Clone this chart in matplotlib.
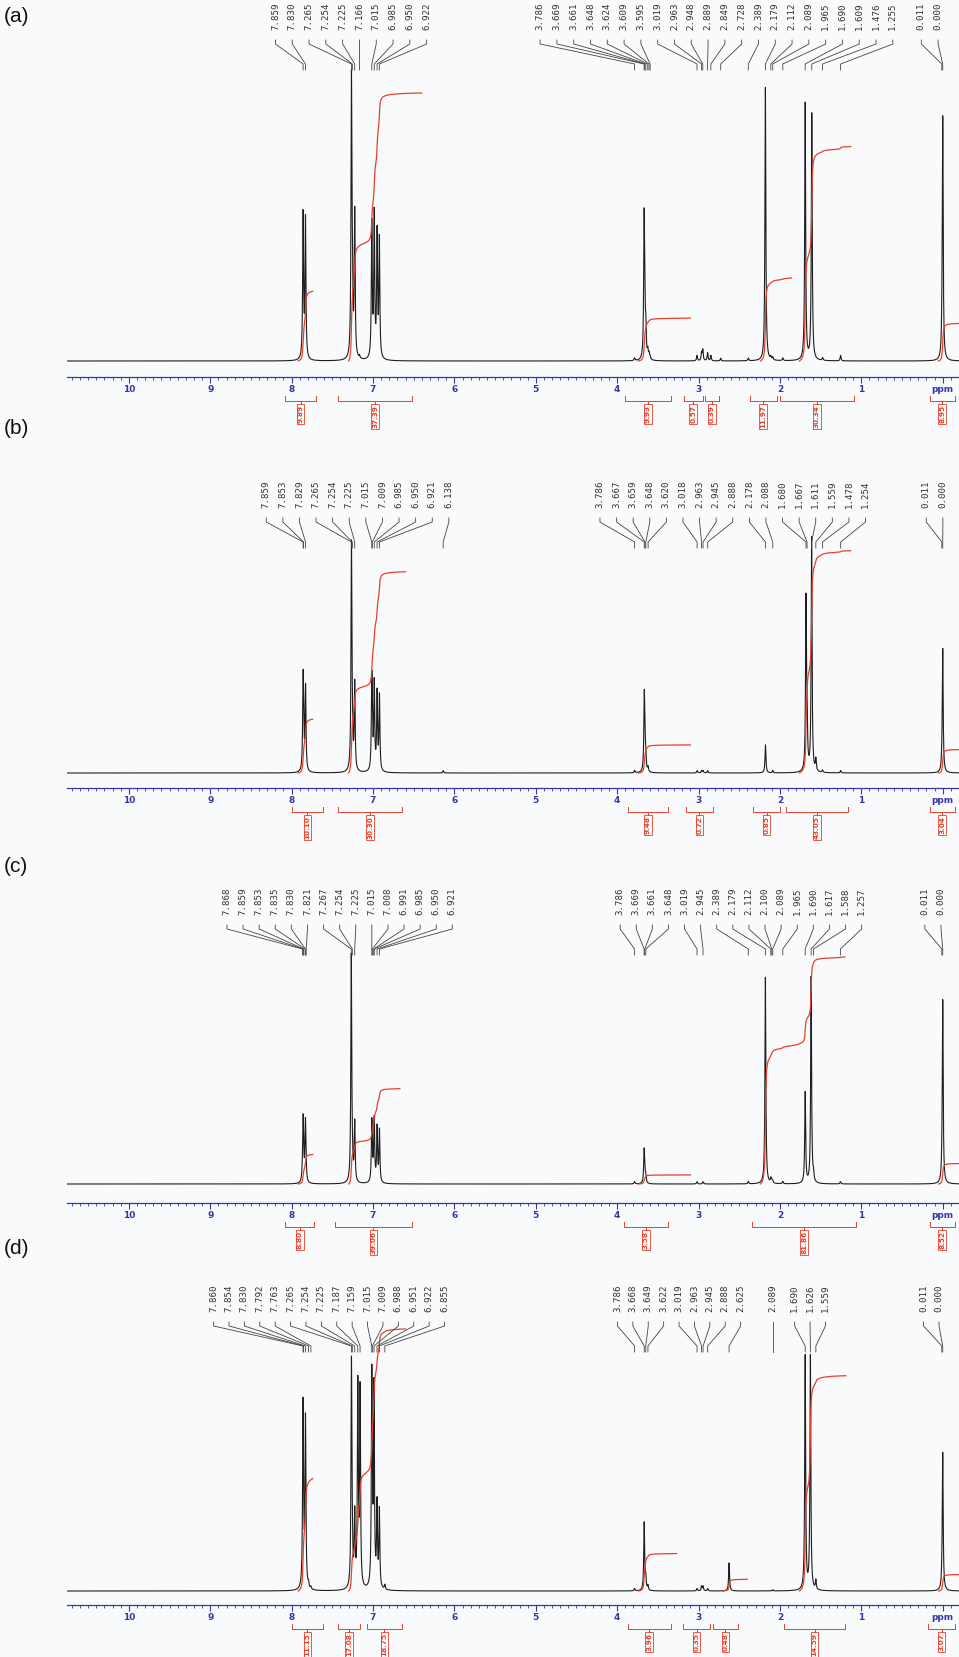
import numpy as np
import matplotlib.pyplot as plt
from matplotlib.ticker import MultipleLocator

W, H = 959, 1657
X0 = 67 / W               # left edge of the ppm axis
XL, XR = 10.76, -0.2      # ppm range shown
PXPPM = 81.4              # pixels per ppm
HW = 0.0065               # peak half width (ppm)
RED = '#e8402a'
BLUE = '#3636a8'

# ---------------- panel (a) ----------------
a_ppm = [7.859, 7.830, 7.265, 7.254, 7.225, 7.166, 7.015, 6.985, 6.950, 6.922,
         3.786, 3.669, 3.661, 3.648, 3.624, 3.609, 3.595, 3.019, 2.963, 2.948,
         2.889, 2.849, 2.728, 2.389, 2.179, 2.112, 2.089, 1.965, 1.690, 1.609,
         1.476, 1.255, 0.011, 0.000]
a_hgt = [0.54, 0.52, 1.02, 0.20, 0.54, 0.01, 0.50, 0.53, 0.46, 0.44,
         0.01, 0.50, 0.15, 0.10, 0.03, 0.02, 0.01, 0.02, 0.03, 0.04,
         0.03, 0.02, 0.01, 0.01, 1.02, 0.01, 0.01, 0.01, 0.96, 0.92,
         0.01, 0.02, 0.02, 0.91]
a_labels = [['7.859', '7.830', '7.265', '7.254', '7.225', '7.166', '7.015', '6.985', '6.950', '6.922'],
            ['3.786', '3.669', '3.661', '3.648', '3.624', '3.609', '3.595', '3.019', '2.963', '2.948',
             '2.889', '2.849', '2.728', '2.389', '2.179', '2.112', '2.089', '1.965', '1.690', '1.609',
             '1.476', '1.255'],
            ['0.011', '0.000']]
a_lab_ctr = [7.27, 2.78, 0.16]
# integral curves: start ppm, then (end ppm, level) steps
a_int = [(7.92, [(7.74, 0.26)]),
         (7.30, [(7.10, 0.44), (6.40, 1.00)]),
         (3.74, [(3.10, 0.16)]),
         (2.24, [(1.86, 0.31)]),
         (1.76, [(1.13, 0.80)]),
         (0.05, [(-0.2, 0.14)])]
a_brk = [(8.08, 7.70), (7.43, 6.52), (3.90, 3.34), (3.18, 2.95), (2.92, 2.75),
         (2.37, 2.04), (2.00, 1.09), (0.16, -0.15)]
a_brk_val = ['9.89', '37.39', '9.93', '0.57', '0.39', '11.97', '30.34', '8.95']

# ---------------- panel (b) ----------------
b_ppm = [7.859, 7.853, 7.829, 7.265, 7.254, 7.225, 7.015, 7.009, 6.985, 6.950,
         6.921, 6.138, 3.786, 3.667, 3.659, 3.648, 3.620, 3.018, 2.963, 2.945,
         2.888, 2.178, 2.088, 1.680, 1.667, 1.611, 1.559, 1.478, 1.254, 0.011, 0.000]
b_hgt = [0.37, 0.10, 0.36, 0.96, 0.10, 0.37, 0.36, 0.10, 0.37, 0.33,
         0.32, 0.01, 0.01, 0.31, 0.10, 0.05, 0.02, 0.01, 0.01, 0.01,
         0.01, 0.12, 0.01, 0.72, 0.20, 1.00, 0.05, 0.01, 0.01, 0.01, 0.53]
b_labels = [['7.859', '7.853', '7.829', '7.265', '7.254', '7.225', '7.015', '7.009', '6.985', '6.950',
             '6.921', '6.138'],
            ['3.786', '3.667', '3.659', '3.648', '3.620', '3.018', '2.963', '2.945', '2.888', '2.178',
             '2.088', '1.680', '1.667', '1.611', '1.559', '1.478', '1.254'],
            ['0.011', '0.000']]
b_lab_ctr = [7.19, 2.58, 0.10]
b_int = [(7.92, [(7.74, 0.23)]),
         (7.30, [(7.10, 0.37), (6.60, 0.86)]),
         (3.74, [(3.10, 0.12)]),
         (1.76, [(1.13, 0.95)]),
         (0.05, [(-0.2, 0.10)])]
b_brk = [(7.99, 7.62), (7.43, 6.64), (3.87, 3.38), (3.16, 2.82), (2.33, 2.00),
         (1.92, 1.17), (0.16, -0.15)]
b_brk_val = ['10.10', '30.30', '9.48', '0.72', '0.85', '43.05', '3.04']

# ---------------- panel (c) ----------------
c_ppm = [7.868, 7.859, 7.853, 7.835, 7.830, 7.821, 7.267, 7.254, 7.225, 7.015,
         7.008, 6.991, 6.985, 6.950, 6.921, 3.786, 3.669, 3.661, 3.648, 3.019,
         2.945, 2.389, 2.179, 2.112, 2.100, 2.089, 1.965, 1.690, 1.617, 1.588,
         1.257, 0.011, 0.000]
c_hgt = [0.02, 0.26, 0.05, 0.03, 0.25, 0.02, 1.00, 0.05, 0.26, 0.25,
         0.05, 0.03, 0.26, 0.24, 0.23, 0.01, 0.14, 0.04, 0.03, 0.01,
         0.01, 0.01, 0.91, 0.02, 0.01, 0.01, 0.01, 0.40, 0.91, 0.03,
         0.01, 0.01, 0.81]
c_labels = [['7.868', '7.859', '7.853', '7.835', '7.830', '7.821', '7.267', '7.254', '7.225', '7.015',
             '7.008', '6.991', '6.985', '6.950', '6.921'],
            ['3.786', '3.669', '3.661', '3.648', '3.019', '2.945', '2.389', '2.179', '2.112', '2.100',
             '2.089', '1.965', '1.690', '1.617', '1.588', '1.257'],
            ['0.011', '0.000']]
c_lab_ctr = [7.41, 2.48, 0.12]
c_int = [(7.92, [(7.74, 0.13)]),
         (7.30, [(7.10, 0.19), (6.67, 0.42)]),
         (3.74, [(3.10, 0.04)]),
         (2.24, [(1.75, 0.62), (1.20, 1.00)]),
         (0.05, [(-0.2, 0.09)])]
c_brk = [(8.08, 7.72), (7.47, 6.52), (3.92, 3.38), (2.34, 1.06), (0.16, -0.15)]
c_brk_val = ['8.80', '39.06', '3.58', '81.86', '8.52']

# ---------------- panel (d) ----------------
d_ppm = [7.860, 7.854, 7.830, 7.792, 7.763, 7.265, 7.254, 7.225, 7.187, 7.159,
         7.015, 7.009, 6.988, 6.951, 6.922, 6.855, 3.786, 3.668, 3.649, 3.622,
         3.019, 2.963, 2.945, 2.888, 2.625, 2.089, 1.690, 1.626, 1.559, 0.011, 0.000]
d_hgt = [0.74, 0.10, 0.72, 0.02, 0.01, 0.96, 0.10, 0.30, 0.86, 0.84,
         0.86, 0.10, 0.84, 0.35, 0.33, 0.02, 0.01, 0.29, 0.05, 0.02,
         0.01, 0.02, 0.02, 0.01, 0.12, 0.005, 1.00, 1.00, 0.04, 0.01, 0.59]
d_labels = [['7.860', '7.854', '7.830', '7.792', '7.763', '7.265', '7.254', '7.225', '7.187', '7.159',
             '7.015', '7.009', '6.988', '6.951', '6.922', '6.855'],
            ['3.786', '3.668', '3.649', '3.622', '3.019', '2.963', '2.945', '2.888', '2.625'],
            ['2.089'],
            ['1.690', '1.626', '1.559'],
            ['0.011', '0.000']]
d_lab_ctr = [7.54, 3.24, 2.089, 1.63, 0.14]
d_int = [(7.92, [(7.74, 0.48)]),
         (7.30, [(7.10, 0.50), (6.60, 1.12)]),
         (3.74, [(3.27, 0.16)]),
         (2.70, [(2.40, 0.05)]),
         (1.76, [(1.19, 0.92)]),
         (0.05, [(-0.2, 0.07)])]
d_brk = [(7.99, 7.62), (7.43, 7.16), (7.08, 6.64), (3.87, 3.34), (3.19, 2.86),
         (2.82, 2.52), (1.95, 1.20), (0.18, -0.15)]
d_brk_val = ['11.15', '17.08', '18.75', '3.96', '0.35', '0.48', '14.59', '3.07']

# pixel layout: label top, height-1 level, baseline, axis line, tag y, label spacing
layout = {'a': (3, 93, 361, 377, 16, 16.8),
          'b': (481, 539, 773, 788, 429, 16.6),
          'c': (888, 957, 1184, 1203, 867, 16.1),
          'd': (1285, 1357, 1591, 1605, 1248, 15.4)}

fig = plt.figure(figsize=(W / 100, H / 100), dpi=100)
fig.patch.set_facecolor('#f9fafc')


def draw_panel(key, ppm, hgt, labels, lab_ctr, ints, brk, brk_val):
    top, ptop, base, spine, tag_y, lsp = layout[key]
    u = base - ptop
    hax = spine - top
    ax = fig.add_axes([X0, 1 - spine / H, 1 - X0, hax / H])
    ax.set_facecolor('none')

    x = np.arange(XL, XR, -0.0005)
    y = np.zeros_like(x)
    for p, h in zip(ppm, hgt):
        y += h * HW ** 2 / ((x - p) ** 2 + HW ** 2)
    ax.plot(x, y, color='#1e1e1e', lw=0.8)

    # integral curves, each step scaled to the level
    for start, steps in ints:
        lo = 0.0
        a = start
        xs, ys = [], []
        for b, lev in steps:
            m = (x <= a) & (x >= b)
            c = np.cumsum(y[m])
            xs.append(x[m])
            ys.append(lo + c / c[-1] * (lev - lo))
            a, lo = b, lev
        ax.plot(np.concatenate(xs), np.concatenate(ys), color=RED, lw=0.9)

    ax.set_xlim(XL, XR)
    ax.set_ylim(-(spine - base) / u, (base - top) / u)
    ax.set_yticks([])
    for s in ['top', 'left', 'right']:
        ax.spines[s].set_visible(False)
    ax.spines['bottom'].set_color(BLUE)
    ax.spines['bottom'].set_linewidth(0.9)
    ax.set_xticks(range(11), ['ppm'] + [str(i) for i in range(1, 11)],
                  fontsize=6.5, fontweight='bold', color=BLUE)
    ax.xaxis.set_minor_locator(MultipleLocator(0.1))
    ax.tick_params(axis='x', which='major', length=4, width=0.8, color=BLUE, pad=2)
    ax.tick_params(axis='x', which='minor', length=2, width=0.6, color=BLUE)

    tr = ax.get_xaxis_transform()

    def fy(px):  # pixels below the top of the axes
        return 1 - px / hax

    def fb(px):  # pixels below the axis line
        return -px / hax

    # peak labels with leader lines
    sp = lsp / PXPPM
    for labs, ctr in zip(labels, lab_ctr):
        n = len(labs)
        for i, s in enumerate(labs):
            lx = ctr + (n - 1) / 2 * sp - i * sp
            p = float(s)
            ax.text(lx, 1, s, rotation=90, ha='center', va='top', transform=tr,
                    fontsize=6.6, family='DejaVu Sans Mono', color='#333333')
            ax.plot([lx, lx, p, p], [fy(37), fy(41), fy(61), fy(67)], transform=tr,
                    color='#444444', lw=0.6, clip_on=False)

    # integral brackets and values
    for (a, b), val in zip(brk, brk_val):
        mid = (a + b) / 2
        ax.plot([a, a, mid, mid, mid, b, b],
                [fb(19), fb(24), fb(24), fb(27), fb(24), fb(24), fb(19)],
                transform=tr, color=RED, lw=0.7, clip_on=False)
        ax.text(mid, fb(28), val, rotation=90, ha='center', va='top', transform=tr,
                fontsize=5.2, fontweight='bold', color=RED, clip_on=False,
                bbox=dict(boxstyle='square,pad=0.12', fc='none', ec=RED, lw=0.6))

    fig.text(4 / W, 1 - tag_y / H, '(' + key + ')', fontsize=15, va='center',
             ha='left', family='Liberation Sans', color='#111111')


draw_panel('a', a_ppm, a_hgt, a_labels, a_lab_ctr, a_int, a_brk, a_brk_val)
draw_panel('b', b_ppm, b_hgt, b_labels, b_lab_ctr, b_int, b_brk, b_brk_val)
draw_panel('c', c_ppm, c_hgt, c_labels, c_lab_ctr, c_int, c_brk, c_brk_val)
draw_panel('d', d_ppm, d_hgt, d_labels, d_lab_ctr, d_int, d_brk, d_brk_val)

fig.savefig('out.png', dpi=100, facecolor=fig.get_facecolor())
